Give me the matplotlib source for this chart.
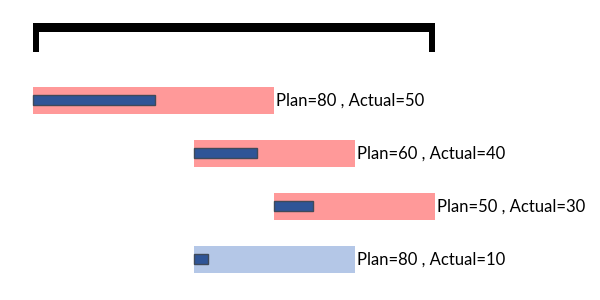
import matplotlib.pyplot as plt

# Gantt-style tasks: start, planned duration, drawn progress, label numbers
starts = [0, 40, 60, 40]
durations = [60, 40, 40, 40]
progress = [30.3, 15.7, 9.7, 3.6]
plan = [80, 60, 50, 80]
actual = [50, 40, 30, 10]
bar_colors = ['#FF9999', '#FF9999', '#FF9999', '#B4C7E7']

# bracket spanning the whole schedule
span = [0, 100]

fig = plt.figure(figsize=(6, 3), dpi=100)
ax = fig.add_axes([0, 0, 1, 1])
ax.set_xlim(-33 / 4.02, 567 / 4.02)
ax.set_ylim(3.77, -1.89)
ax.axis('off')

rows = list(range(len(starts)))

# plan bars and progress bars
ax.barh(rows, durations, left=starts, height=0.51, color=bar_colors)
ax.barh(rows, progress, left=starts, height=0.2, color='#2F5597',
        edgecolor='#3F4A5A', linewidth=1.0)

for i in rows:
    ax.text(starts[i] + durations[i] + 0.5, i + 0.01,
            f'Plan={plan[i]} , Actual={actual[i]}',
            va='center', ha='left', fontsize=12, family='Lato', color='black')

# bracket on top
ax.barh([-1.372], [span[1] - span[0]], left=span[0], height=0.17, color='black')
ax.bar([span[0]], [0.55], bottom=-1.457, width=1.5, align='edge', color='black')
ax.bar([span[1]], [0.55], bottom=-1.457, width=-1.5, align='edge', color='black')

fig.savefig('out.png', dpi=100)
